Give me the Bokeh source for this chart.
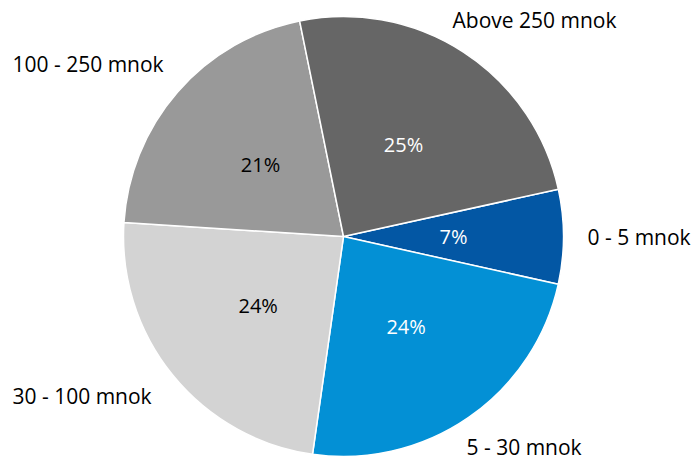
import math
from bokeh.plotting import figure
from bokeh.models import Range1d, ColumnDataSource
from bokeh.core.properties import value
from bokeh.embed import file_html
from bokeh.resources import INLINE

# ---- data ----
categories = ["0 - 5 mnok", "5 - 30 mnok", "30 - 100 mnok", "100 - 250 mnok", "Above 250 mnok"]
shares = [7, 24, 24, 21, 25]
pct_labels = ["7%", "24%", "24%", "21%", "25%"]

# ---- style ----
colors = ["#0357A4", "#0390D5", "#D3D3D3", "#999999", "#666666"]
pct_colors = ["white", "white", "black", "black", "white"]
FONT = "Open Sans"

# ---- layout (pixels, y measured upward) ----
W, H = 694, 461
CX, CY = 343, 225          # pie centre in figure coordinates
R = 220
START_DEG = 12.4           # first slice starts here, slices run clockwise
# outer category label anchors (left-aligned), same order as categories
label_pos = [(587, 225), (466, 15), (12, 66), (12, 398), (452, 442)]

total = float(sum(shares))
starts, ends, mids = [], [], []
a = math.radians(START_DEG)
for s in shares:
    sweep = 2 * math.pi * s / total
    starts.append(a)
    ends.append(a - sweep)
    mids.append(a - sweep / 2)
    a -= sweep

src = ColumnDataSource(dict(
    cat=categories, start=starts, end=ends, color=colors,
    px=[CX + 0.5 * R * math.cos(m) for m in mids],
    py=[CY + 0.5 * R * math.sin(m) for m in mids],
    pct=pct_labels, pcol=pct_colors,
))

p = figure(width=W, height=H, output_backend="svg", toolbar_location=None,
           x_range=Range1d(0, W), y_range=Range1d(0, H), min_border=0)
p.axis.visible = False
p.grid.visible = False
p.outline_line_color = None
p.background_fill_color = "white"
p.border_fill_color = "white"

p.wedge(x=CX, y=CY, radius=R, radius_units="screen", start_angle="start", end_angle="end",
        direction="clock", fill_color="color", line_color="white", line_width=1.5, source=src)

p.text(x="px", y="py", text="pct", text_color="pcol", text_align="center",
       text_baseline="middle", text_font=value(FONT), text_font_size="20px", source=src)

lsrc = ColumnDataSource(dict(
    x=[q[0] for q in label_pos], y=[q[1] for q in label_pos], t=categories))
p.text(x="x", y="y", text="t", text_color="black", text_align="left",
       text_baseline="middle", text_font=value(FONT), text_font_size="21px", source=lsrc)

open("out.html", "w").write(file_html(p, INLINE))
